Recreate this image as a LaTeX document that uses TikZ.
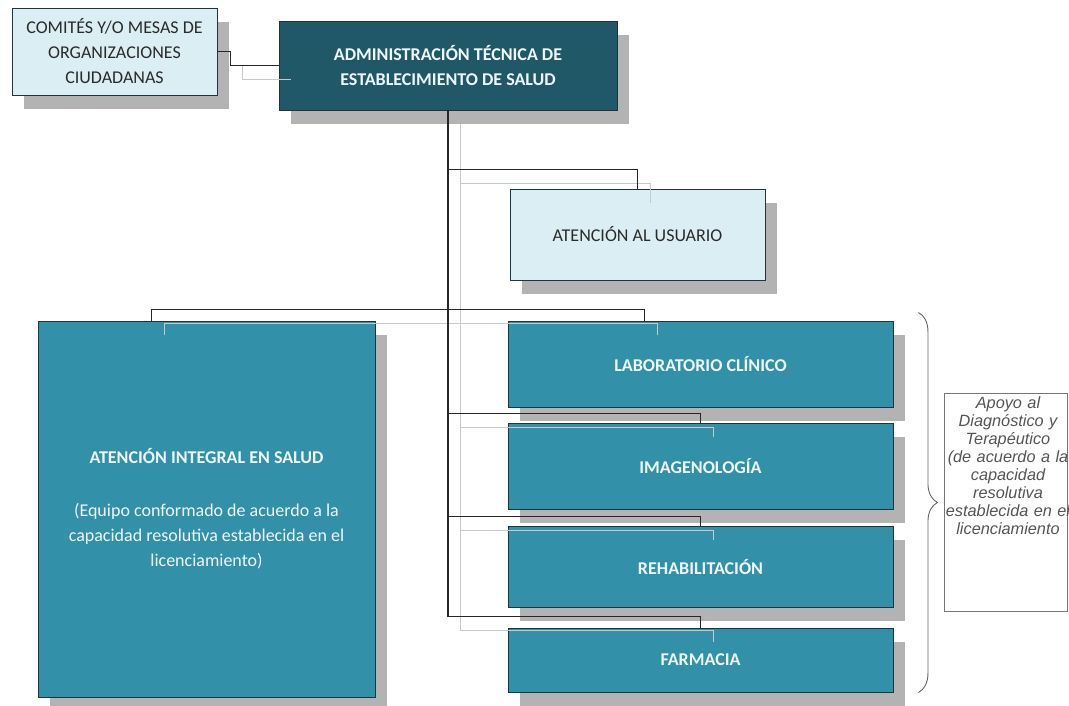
\documentclass[tikz,border=0pt]{standalone}
\usepackage{fontspec}
\setmainfont{Carlito}
\newfontfamily\arialf{Liberation Sans}
\usetikzlibrary{shadows,calc,decorations.pathreplacing}
\definecolor{admc}{HTML}{215868}
\definecolor{tealc}{HTML}{3390A9}
\definecolor{lightc}{HTML}{DAEEF3}
\definecolor{bordc}{HTML}{1E3440}
\definecolor{shadc}{HTML}{B3B3B3}
\definecolor{glinec}{HTML}{C4CACD}
\definecolor{wtext}{HTML}{EEF8FB}
\definecolor{dtext}{HTML}{2A2A2A}
\definecolor{gtext}{HTML}{555555}
\begin{document}
\begin{tikzpicture}[x=1pt,y=-1pt,
  box/.style={draw=bordc, line width=0.9pt, inner sep=0pt, align=center,
    font=\fontsize{18}{25}\selectfont,
    general shadow={fill=shadc, shadow xshift=12pt, shadow yshift=-14pt}},
  lightbox/.style={box, fill=lightc, text=dtext},
  tealbox/.style={box, fill=tealc, text=wtext, font=\fontsize{18}{25}\selectfont\bfseries},
  tealplain/.style={box, fill=tealc, text=wtext, font=\fontsize{18}{25}\selectfont},
  darkbox/.style={box, fill=admc, text=wtext, font=\fontsize{18}{25}\selectfont\bfseries},
  conn/.style={draw=black!85, line width=1.2pt},
  gconn/.style={draw=glinec, line width=1pt},
  notebox/.style={draw=gtext!80, line width=0.9pt, fill=white},
  notetext/.style={inner sep=0pt, align=center, text width=132pt, text=gtext,
    font=\arialf\itshape\fontsize{16.3}{18}\selectfont},
  bracestyle/.style={draw=gtext!90, line width=0.9pt, decorate,
    decoration={brace, amplitude=19pt}}
]
\useasboundingbox (0,0) rectangle (1069,706);

% boxes
\node[lightbox, minimum width=205pt, minimum height=87pt] (com) at (114.5,51.5)
  {COMITÉS Y/O MESAS DE\\ORGANIZACIONES\\CIUDADANAS};
\node[darkbox, minimum width=338pt, minimum height=89pt] (adm) at (448,65.5)
  {ADMINISTRACIÓN TÉCNICA DE\\ESTABLECIMIENTO DE SALUD};
\node[lightbox, minimum width=255pt, minimum height=91pt] (usu) at (637.5,234.5)
  {ATENCIÓN AL USUARIO};
\node[tealplain, minimum width=337pt, minimum height=376pt] (int) at (206.5,509)
  {\textbf{ATENCIÓN INTEGRAL EN SALUD}\\[28pt]
   (Equipo conformado de acuerdo a la\\
   capacidad resolutiva establecida en el\\
   licenciamiento)};
\node[tealbox, minimum width=385pt, minimum height=86pt] (lab) at (700.5,364)
  {LABORATORIO CLÍNICO};
\node[tealbox, minimum width=385pt, minimum height=86pt] (img) at (700.5,466)
  {IMAGENOLOGÍA};
\node[tealbox, minimum width=385pt, minimum height=81pt] (reh) at (700.5,566.5)
  {REHABILITACIÓN};
\node[tealbox, minimum width=385pt, minimum height=64pt] (far) at (700.5,660)
  {FARMACIA};

% note box and brace
\node[notebox, minimum width=123pt, minimum height=218pt, inner sep=0pt] (apo) at (1005.5,502) {};
\node[notetext, anchor=north] (apot) at (1008,396)
  {Apoyo al\\Diagnóstico y\\Terapéutico\\(de acuerdo a la\\capacidad\\resolutiva\\establecida en el\\licenciamiento};
\draw[bracestyle] ($(lab.north east)+(25,-8)$) -- ($(far.south east)+(25,0)$);

% connector shadows
\begin{scope}[transform canvas={xshift=12.5pt,yshift=-14pt}]
  \draw[gconn] (com.east) -- ++(13,0) |- (adm.west);
  \draw[gconn] (far.north) -- ++(0,-11) -| (adm.south);
  \draw[gconn] (usu.north) -- ++(0,-19) -| (adm.south);
  \draw[gconn] (img.north) -- ++(0,-9) -| (adm.south);
  \draw[gconn] (reh.north) -- ++(0,-9) -| (adm.south);
  \draw[gconn] ($(int.north west)+(114,0)$) -- ++(0,-11) -- ($(lab.north west)+(137,-11)$) -- ($(lab.north west)+(137,0)$);
\end{scope}

% connectors
\draw[conn] (com.east) -- ++(13,0) |- (adm.west);
\draw[conn] (far.north) -- ++(0,-11) -| (adm.south);
\draw[conn] (usu.north) -- ++(0,-19) -| (adm.south);
\draw[conn] (img.north) -- ++(0,-9) -| (adm.south);
\draw[conn] (reh.north) -- ++(0,-9) -| (adm.south);
\draw[conn] ($(int.north west)+(114,0)$) -- ++(0,-11) -- ($(lab.north west)+(137,-11)$) -- ($(lab.north west)+(137,0)$);
\end{tikzpicture}
\end{document}
